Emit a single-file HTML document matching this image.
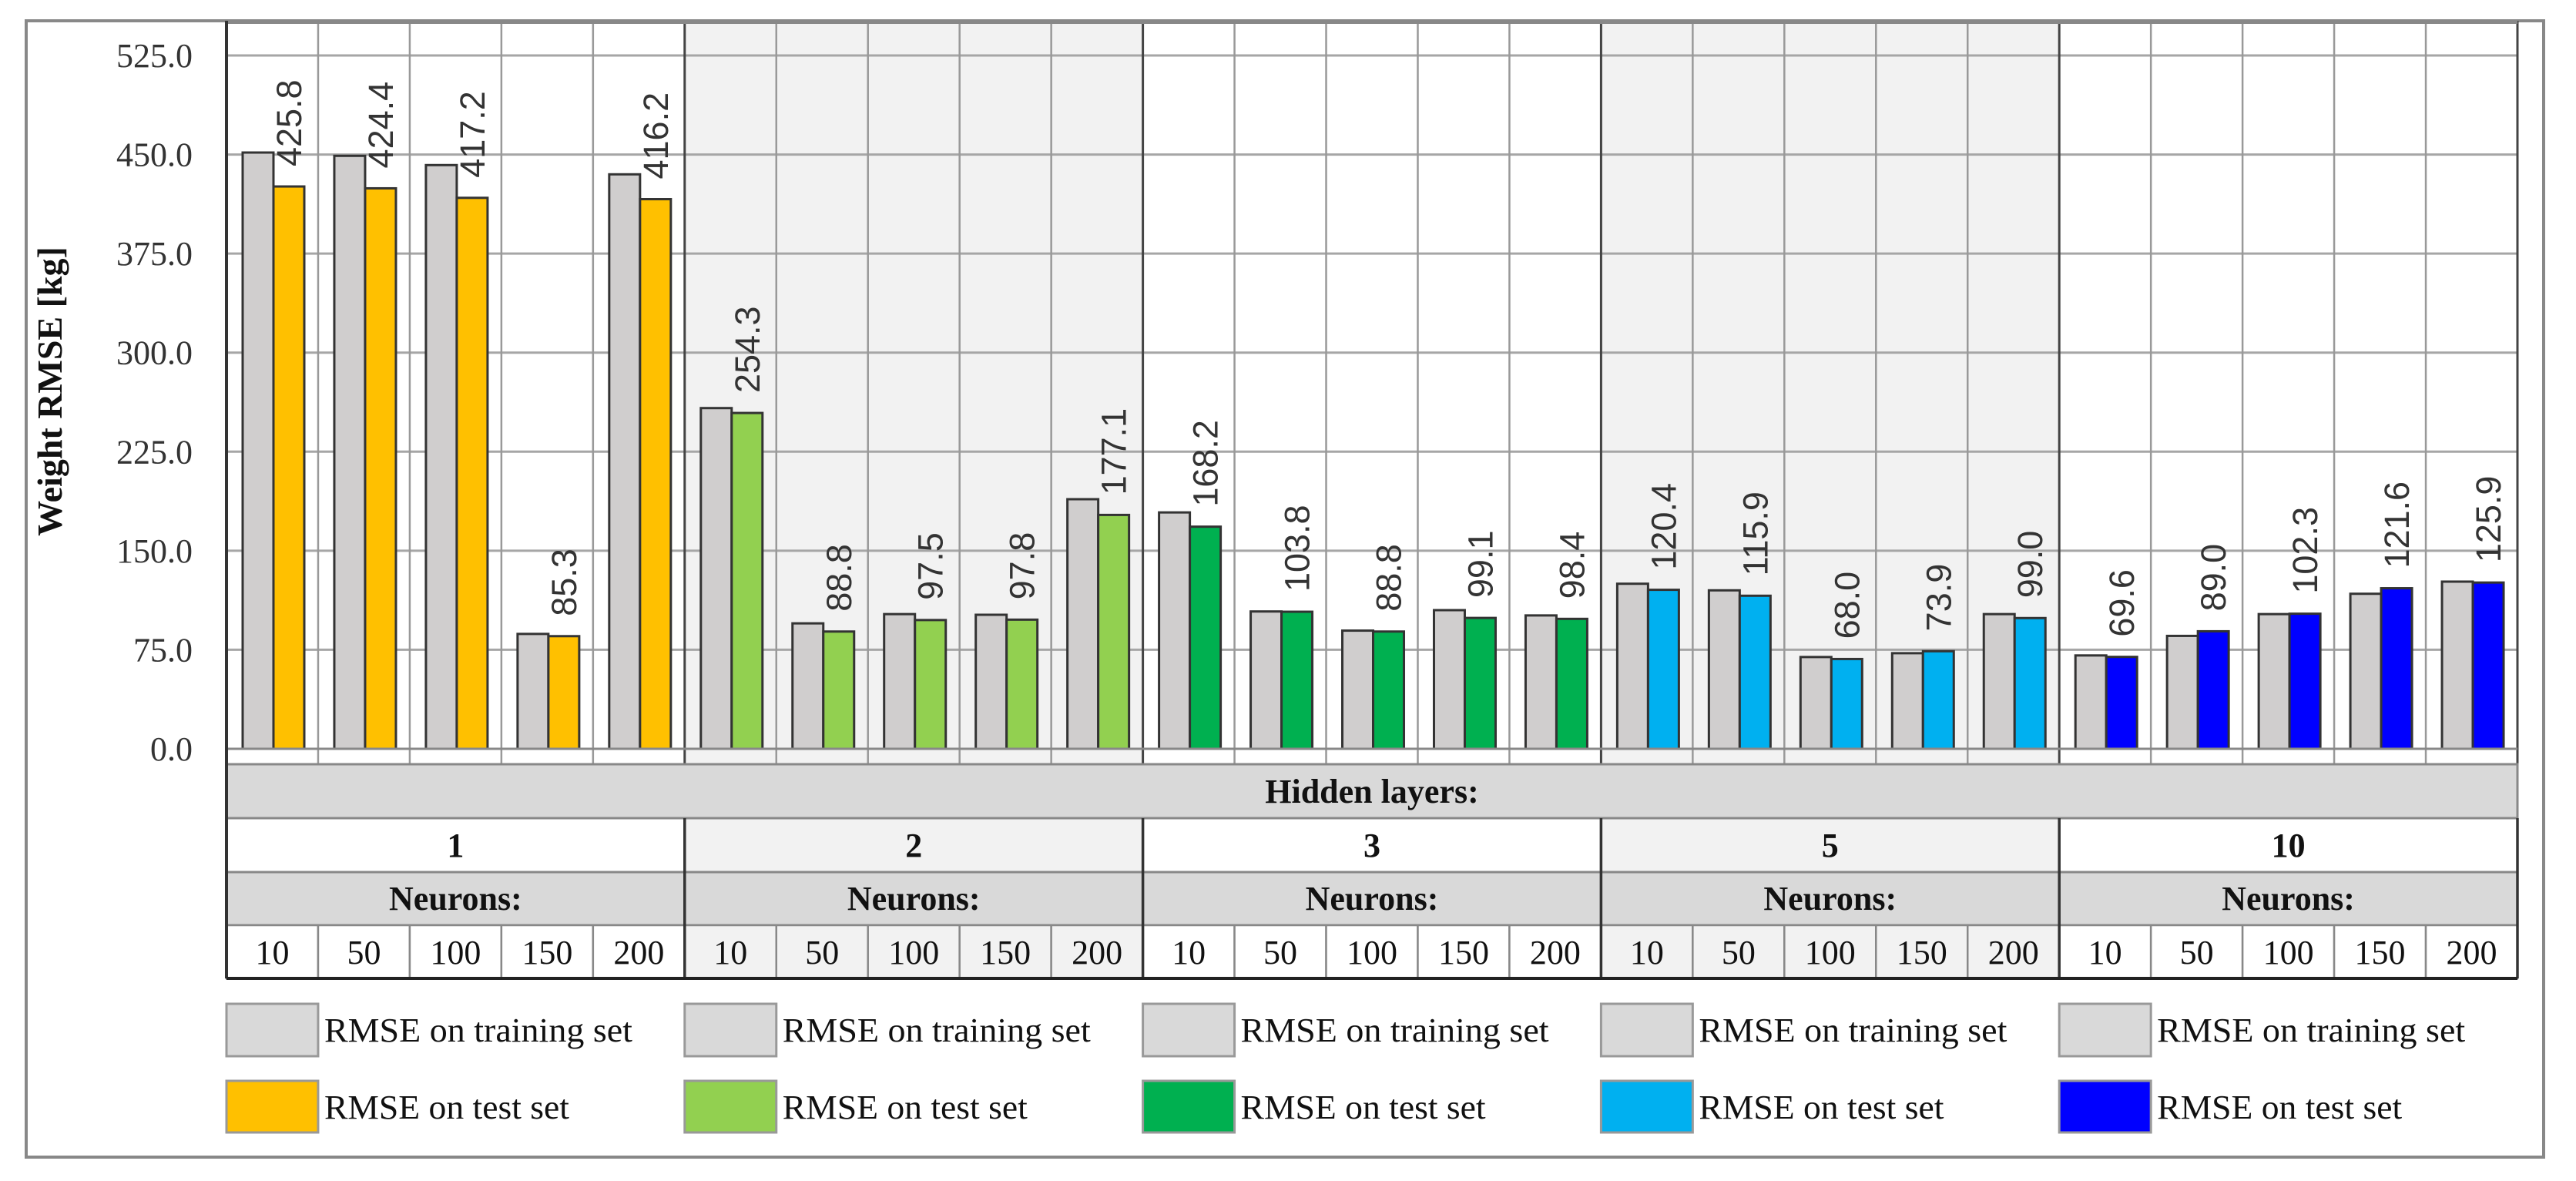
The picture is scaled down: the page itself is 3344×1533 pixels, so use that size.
<!DOCTYPE html>
<html><head><meta charset="utf-8"><style>
html,body{margin:0;padding:0;background:#fff;}
svg{display:block;}
.serif{font-family:"Liberation Serif",serif;}
.sans{font-family:"Liberation Sans",sans-serif;}
</style></head><body>
<svg id="chart" width="3344" height="1533" viewBox="0 0 3344 1533" xmlns="http://www.w3.org/2000/svg">
<rect x="34" y="27" width="3268" height="1475" fill="#fff" stroke="#888" stroke-width="4"/>
<g id="bg"></g><g id="grid"></g><g id="bars"></g><g id="labels"></g><g id="table"></g><g id="legend"></g>
<text class="serif" font-weight="bold" font-size="46" fill="#111" text-anchor="middle" transform="translate(80,508) rotate(-90)">Weight RMSE [kg]</text>
</svg>
<script>
const layers = ["1","2","3","5","10"];
const neurons = ["10","50","100","150","200"];
const trainValues = [451.5,449,442,87,435, 258,95,102,101.5,189, 179,104,89.5,105,101, 125,120,69.5,72.4,102, 70.7,85.5,102,117.4,126.6];
const testValues = [425.8,424.4,417.2,85.3,416.2, 254.3,88.8,97.5,97.8,177.1, 168.2,103.8,88.8,99.1,98.4, 120.4,115.9,68.0,73.9,99.0, 69.6,89.0,102.3,121.6,125.9];
const testColors = ["#FFC000","#92D050","#00B050","#00B0F0","#0000FF"];
const yTicks = [0,75,150,225,300,375,450,525];

const NS="http://www.w3.org/2000/svg";
function mk(parent,tag,attrs,text){const e=document.createElementNS(NS,tag);for(const k in attrs)e.setAttribute(k,attrs[k]);if(text!==undefined)e.textContent=text;parent.appendChild(e);return e;}
const L=294,R=3268,T=27,Y0=972,Y1=72,AX=992;
const nCat=layers.length*neurons.length;
const cw=(R-L)/nCat, gw=cw*neurons.length;
const y=v=>Y0-(v/525)*(Y0-Y1);
const x=i=>L+i*cw;
const bg=document.getElementById('bg'),grid=document.getElementById('grid'),bars=document.getElementById('bars'),labels=document.getElementById('labels'),table=document.getElementById('table'),legend=document.getElementById('legend');

layers.forEach((g,gi)=>{ if(gi%2===1){
  let r=mk(bg,'rect',{x:L+gi*gw,y:T,width:gw,height:AX-T,fill:'#f2f2f2'});
  
  
}});
yTicks.forEach(t=>{
  let l=mk(grid,'line',{x1:L,x2:R,y1:y(t),y2:y(t),stroke:'#a6a6a6','stroke-width':3});
  
  
  let tx=mk(grid,'text',{x:250,y:y(t)+15,'text-anchor':'end','font-size':44,fill:'#333',class:'serif'},t.toFixed(1));
  
  
});
for(let i=0;i<=nCat;i++){
  const major=i%neurons.length===0;
  let l=mk(grid,'line',{x1:x(i),x2:x(i),y1:T,y2:AX,stroke:major?'#444':'#999','stroke-width':major?3:2.5});
  
  
}
mk(grid,'line',{x1:L,x2:R,y1:T+2,y2:T+2,stroke:'#888','stroke-width':4});
trainValues.forEach((v,i)=>{
  const gi=Math.floor(i/neurons.length);
  const bx=x(i)+21;
  let r=mk(bars,'rect',{x:bx,y:y(v),width:40,height:Y0-y(v),fill:'#D0CECE',stroke:'#333','stroke-width':3});
  
  
  const tv=testValues[i];
  let r2=mk(bars,'rect',{x:bx+40,y:y(tv),width:40,height:Y0-y(tv),fill:testColors[gi],stroke:'#333','stroke-width':3});
  
  
  const lx=bx+40+20+16, ly=y(tv)-26;
  let t=mk(labels,'text',{x:0,y:0,'font-size':45,fill:'#333',class:'sans',transform:`translate(${lx},${ly}) rotate(-90)`},tv.toFixed(1));
  
  
});
mk(bars,'line',{x1:L,x2:R,y1:Y0,y2:Y0,stroke:'#888','stroke-width':3});
let hr=mk(table,'rect',{x:L,y:AX,width:R-L,height:70,fill:'#d9d9d9',stroke:'#888','stroke-width':3});


let ht=mk(table,'text',{x:(L+R)/2,y:1042,'text-anchor':'middle','font-size':44,'font-weight':'bold',fill:'#111',class:'serif'},'Hidden layers:');


layers.forEach((g,gi)=>{
  const gx=L+gi*gw;
  let a=mk(table,'rect',{x:gx,y:1062,width:gw,height:70,fill:gi%2?'#f2f2f2':'#fff',stroke:'#888','stroke-width':3});
  
  
  let at=mk(table,'text',{x:gx+gw/2,y:1112,'text-anchor':'middle','font-size':44,'font-weight':'bold',fill:'#111',class:'serif'},g);
  
  
  let b=mk(table,'rect',{x:gx,y:1132,width:gw,height:69,fill:'#d9d9d9',stroke:'#888','stroke-width':3});
  
  
  let bt=mk(table,'text',{x:gx+gw/2,y:1181,'text-anchor':'middle','font-size':44,'font-weight':'bold',fill:'#111',class:'serif'},'Neurons:');
  
  
  neurons.forEach((n,ni)=>{
    const cx=gx+ni*cw;
    let c=mk(table,'rect',{x:cx,y:1201,width:cw,height:69,fill:gi%2?'#f2f2f2':'#fff',stroke:'#888','stroke-width':2.5});
    
    
    let ct=mk(table,'text',{x:cx+cw/2,y:1251,'text-anchor':'middle','font-size':44,fill:'#111',class:'serif'},n);
    
    
  });
  mk(table,'line',{x1:gx,x2:gx,y1:1062,y2:1270,stroke:'#333','stroke-width':3.5});
  let l1=mk(legend,'rect',{x:gx,y:1303,width:cw,height:68,fill:'#d9d9d9',stroke:'#999','stroke-width':3});
  
  
  let l1t=mk(legend,'text',{x:gx+cw+8,y:1352,'font-size':44,fill:'#111',class:'serif',textLength:400,lengthAdjust:'spacingAndGlyphs'},'RMSE on training set');
  
  
  let l2=mk(legend,'rect',{x:gx,y:1403,width:cw,height:67,fill:testColors[gi],stroke:'#999','stroke-width':3});
  
  
  let l2t=mk(legend,'text',{x:gx+cw+8,y:1452,'font-size':44,fill:'#111',class:'serif',textLength:318,lengthAdjust:'spacingAndGlyphs'},'RMSE on test set');
  
  
});
mk(table,'line',{x1:R,x2:R,y1:1062,y2:1270,stroke:'#333','stroke-width':3.5});
mk(table,'line',{x1:L,x2:L,y1:T,y2:1270,stroke:'#333','stroke-width':4});
mk(table,'line',{x1:L,x2:R,y1:1270,y2:1270,stroke:'#222','stroke-width':4});
</script>
</body></html>
